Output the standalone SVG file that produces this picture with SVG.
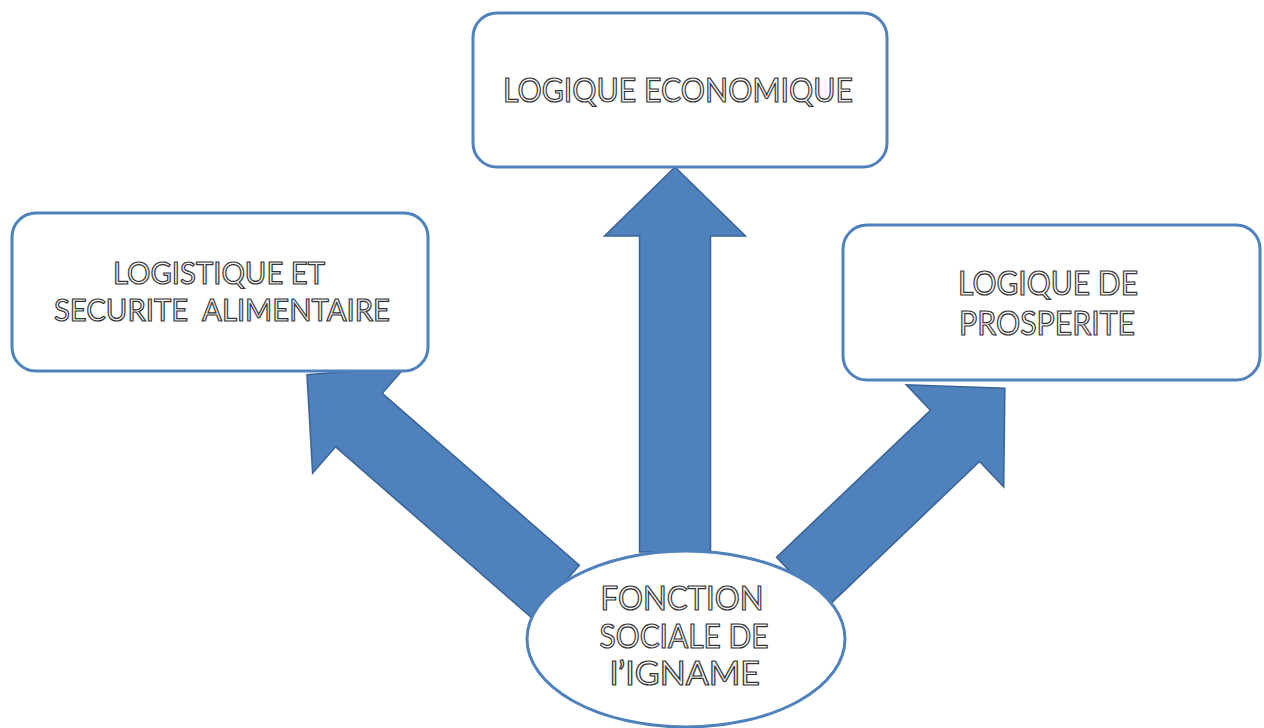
<svg xmlns="http://www.w3.org/2000/svg" width="1264" height="728" viewBox="0 0 1264 728">
<style>
.box{fill:#ffffff;stroke:#4F81BD;stroke-width:3}
.arrow{fill:#4F81BD;stroke:#3A6395;stroke-width:1.5;stroke-linejoin:miter}
.lbl{font-family:Lato,"Open Sans","Liberation Sans",sans-serif;font-size:32px;fill:#f4f4f4;stroke:#333333;stroke-width:1.2;text-anchor:middle}
.sm{font-size:30px}
</style>
<g id="connectors">
<polygon class="arrow" transform="translate(675,552)" points="-35.5,0 -35.5,-316 -70.5,-316 0,-385 70.5,-316 35.5,-316 35.5,0"/>
<polygon class="arrow" transform="translate(556,592) rotate(-48.9)" points="-35.5,0 -35.5,-261.5 -70.5,-261.5 0,-330.5 70.5,-261.5 35.5,-261.5 35.5,0"/>
<polygon class="arrow" transform="translate(801,583) rotate(46.3)" points="-35.5,0 -35.5,-213 -70.5,-213 0,-282 70.5,-213 35.5,-213 35.5,0"/>
</g>
<g id="node-economique">
<rect class="box" x="473" y="13" width="414" height="154" rx="24"/>
<text class="lbl" x="678" y="102" textLength="350" lengthAdjust="spacingAndGlyphs">LOGIQUE ECONOMIQUE</text>
</g>
<g id="node-logistique">
<rect class="box" x="12" y="213" width="416" height="158" rx="24"/>
<text class="lbl sm" x="219" y="284" textLength="212" lengthAdjust="spacingAndGlyphs">LOGISTIQUE ET</text>
<text class="lbl sm" x="222" y="321" textLength="336" lengthAdjust="spacingAndGlyphs" xml:space="preserve">SECURITE  ALIMENTAIRE</text>
</g>
<g id="node-prosperite">
<rect class="box" x="843" y="225" width="417" height="155" rx="24"/>
<text class="lbl" x="1048" y="295" textLength="180" lengthAdjust="spacingAndGlyphs">LOGIQUE DE</text>
<text class="lbl" x="1047" y="335" textLength="176" lengthAdjust="spacingAndGlyphs">PROSPERITE</text>
</g>
<g id="node-fonction">
<ellipse class="box" cx="686" cy="639" rx="159" ry="88"/>
<text class="lbl" x="682" y="610" textLength="163" lengthAdjust="spacingAndGlyphs">FONCTION</text>
<text class="lbl" x="684" y="648" textLength="169" lengthAdjust="spacingAndGlyphs">SOCIALE DE</text>
<text class="lbl" x="685" y="685" textLength="150" lengthAdjust="spacingAndGlyphs">l’IGNAME</text>
</g>
</svg>
